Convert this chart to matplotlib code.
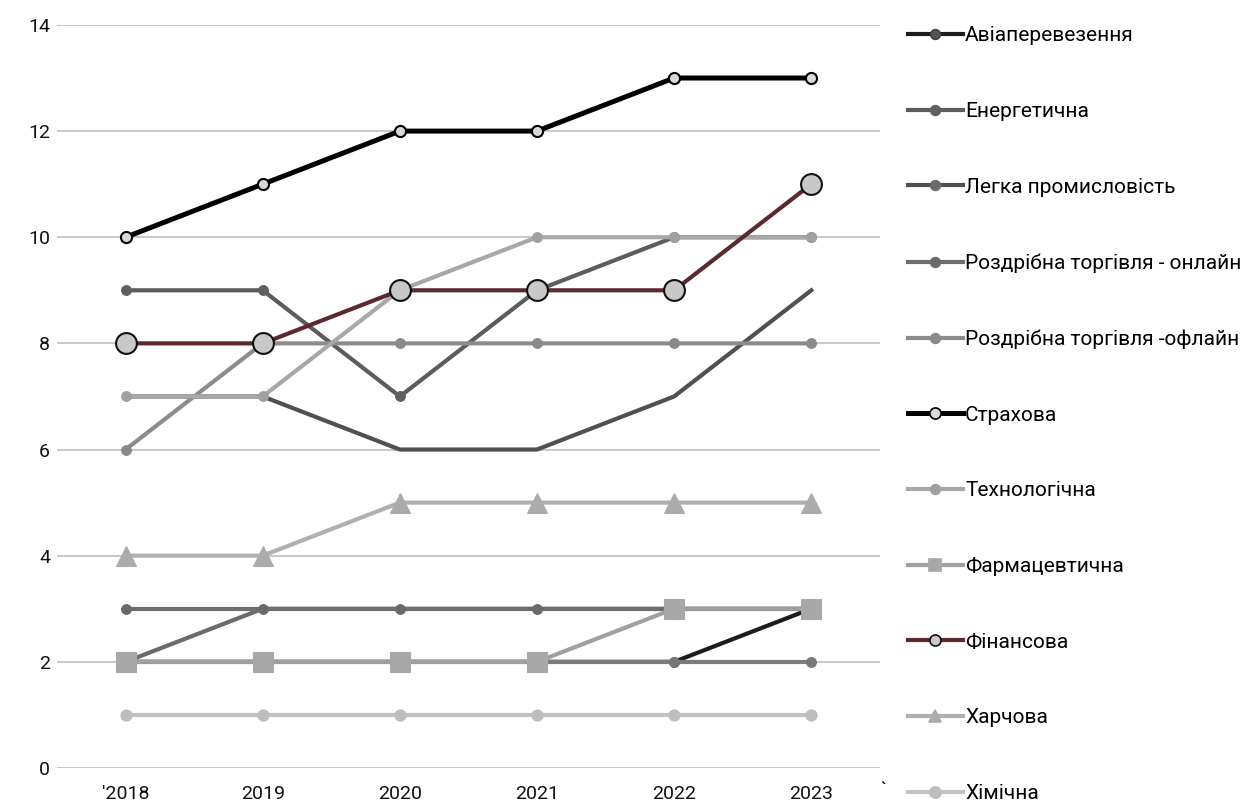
import matplotlib.pyplot as plt
from matplotlib.lines import Line2D

plt.rcParams['font.family'] = ['Roboto', 'DejaVu Sans']

years = ["'2018", "2019", "2020", "2021", "2022", "2023"]

aviation = [2, 2, 2, 2, 2, 3]
energy = [9, 9, 7, 9, 10, 10]
light_ind = [7, 7, 6, 6, 7, 9]
retail_online = [3, 3, 3, 3, 3, 3]
retail_offline = [6, 8, 8, 8, 8, 8]
insurance = [10, 11, 12, 12, 13, 13]
tech = [7, 7, 9, 10, 10, 10]
pharma = [2, 2, 2, 2, 3, 3]
finance = [8, 8, 9, 9, 9, 11]
food = [4, 4, 5, 5, 5, 5]
chemical = [1, 1, 1, 1, 1, 1]
# two series that have no legend entry in the original
other_a = [2, 3, 3, 3, 3, 3]
other_b = [2, 2, 2, 2, 2, 2]

# label, values, line colour, marker, marker size, face, edge, line width, show markers on plot
series = [
    ("Авіаперевезення", aviation, "#1c1c1c", "o", 7, "#555555", "#444444", 3.0, True),
    (None, other_a, "#6a6a6a", "o", 7, "#6a6a6a", "#6a6a6a", 3.0, False),
    (None, other_b, "#7c7c7c", "o", 7, "#777777", "#777777", 3.0, True),
    ("Енергетична", energy, "#5c5c5c", "o", 7, "#606060", "#606060", 3.0, True),
    ("Легка промисловість", light_ind, "#505050", "o", 7, "#6b6b6b", "#6b6b6b", 3.0, False),
    ("Роздрібна торгівля - онлайн", retail_online, "#6e6e6e", "o", 7, "#6a6a6a", "#6a6a6a", 3.0, True),
    ("Роздрібна торгівля -офлайн", retail_offline, "#8c8c8c", "o", 7, "#8a8a8a", "#8a8a8a", 3.0, True),
    ("Страхова", insurance, "#000000", "o", 8, "#d9d9d9", "#000000", 3.6, True),
    ("Технологічна", tech, "#a8a8a8", "o", 7, "#a0a0a0", "#a0a0a0", 3.0, True),
    ("Фармацевтична", pharma, "#a0a0a0", "s", 15, "#a8a8a8", "#a8a8a8", 3.0, True),
    ("Фінансова", finance, "#5a2a2e", "o", 15, "#c8c8c8", "#111111", 3.0, True),
    ("Харчова", food, "#b0b0b0", "^", 15, "#ababab", "#ababab", 3.0, True),
    ("Хімічна", chemical, "#c2c2c2", "o", 8, "#bdbdbd", "#bdbdbd", 3.0, True),
]

fig = plt.figure(figsize=(12.48, 8.10), dpi=100)
ax = fig.add_axes([0.0457, 0.0519, 0.6593, 0.9173])

x = list(range(len(years)))
handles = []
for i, (lab, vals, col, mk, ms, fc, ec, lw, show) in enumerate(series):
    ax.plot(x, vals, color=col, lw=lw, marker=mk if show else "None",
            ms=ms, mfc=fc, mec=ec, mew=1.5 if ec in ("#000000", "#111111") else 0.8,
            zorder=3 + i)
    if lab:
        lms = ms if ms < 10 else 8
        handles.append(Line2D([], [], color=col, lw=lw, marker=mk, ms=lms,
                              mfc=fc, mec=ec, mew=1.2, label=lab))

ax.set_xlim(-0.5, 5.5)
ax.set_ylim(0, 14)
ax.set_yticks(range(0, 15, 2))
ax.set_xticks(x)
ax.set_xticklabels(years)
ax.grid(axis="y", color="#bfbfbf", lw=1.2, zorder=0)
ax.set_axisbelow(True)
for s in ax.spines.values():
    s.set_visible(False)
ax.tick_params(length=0, labelsize=14, colors="#111111")
ax.tick_params(axis="x", pad=12)
ax.tick_params(axis="y", pad=5)

fig.text(880 / 1248, 1 - 795 / 810, "`", fontsize=14)

fig.legend(handles=handles, loc="upper left",
           bbox_to_anchor=(900 / 1248, 1 - 18 / 810), frameon=False,
           fontsize=15, handlelength=2.6, handletextpad=0.12,
           labelspacing=2.72, borderaxespad=0)

fig.savefig("out.png", dpi=100)
